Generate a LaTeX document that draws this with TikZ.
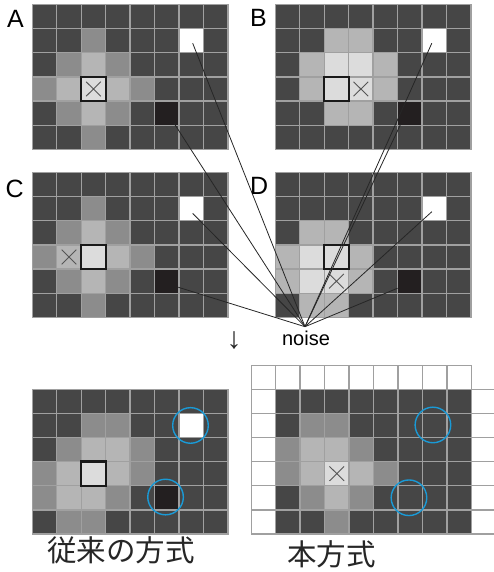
\documentclass[tikz,border=0pt]{standalone}
\usepackage{fontspec}
\setmainfont{Liberation Sans}
\newfontfamily\jpfont{Noto Sans CJK JP}
\definecolor{cD}{HTML}{464646}
\definecolor{cM}{HTML}{8C8C8C}
\definecolor{cL}{HTML}{B5B5B5}
\definecolor{cP}{HTML}{DCDCDC}
\definecolor{cW}{HTML}{FFFFFF}
\definecolor{cK}{HTML}{231F20}
\definecolor{gline}{HTML}{A0A0A0}
\definecolor{ringblue}{HTML}{1A9AD6}
\definecolor{xgray}{HTML}{555555}
\tikzset{
  cell/.style={draw=gline, line width=1.4pt},
  boldbox/.style={draw=black!90, line width=2.3pt},
  xm/.style={draw=xgray, line width=0.9pt},
  ring/.style={draw=ringblue, line width=1.4pt},
  ray/.style={draw=black!85, line width=0.8pt},
  letterlab/.style={font=\fontsize{25}{25}\selectfont, inner sep=0pt},
  noiselab/.style={font=\fontsize{20}{20}\selectfont, inner sep=0pt},
  arrowlab/.style={font=\fontsize{30}{30}\selectfont, inner sep=0pt, text=black!85},
  jplab/.style={font=\jpfont\fontsize{29.5}{30}\selectfont, inner sep=0pt, text=black!85}
}
\newcommand\pixgrid[1]{%
  \foreach \rowlist [count=\ri from 0] in {#1} {%
    \foreach \cc [count=\ci from 0] in \rowlist {%
      \draw[cell, fill=c\cc] (\ci,\ri) rectangle ++(1,1);
    }%
  }%
}
\newcommand\xmarkat[2]{\draw[xm] (#1+0.2,#2+0.2) -- (#1+0.8,#2+0.8) (#1+0.8,#2+0.2) -- (#1+0.2,#2+0.8);}
\newcommand\boldcell[2]{\draw[boldbox] (#1,#2) rectangle ++(1,1);}
\begin{document}
\begin{tikzpicture}[x=1pt, y=-1pt]
\useasboundingbox (0,0) rectangle (493,572);
% Grid A
\begin{scope}[xshift=32.3pt, yshift=-4.3pt, x=24.45pt, y=-24.2pt]
  \pixgrid{{D,D,D,D,D,D,D,D},{D,D,M,D,D,D,W,D},{D,M,L,M,D,D,D,D},{M,L,P,L,M,D,D,D},{D,M,L,M,D,K,D,D},{D,D,M,D,D,D,D,D}}
  \boldcell{2}{3}
  \xmarkat{2}{3}
  \coordinate (Aw) at (6.56,1.61);
  \coordinate (Ak) at (5.80,4.92);
\end{scope}
% Grid B
\begin{scope}[xshift=275.3pt, yshift=-4.3pt, x=24.45pt, y=-24.2pt]
  \pixgrid{{D,D,D,D,D,D,D,D},{D,D,L,L,D,D,W,D},{D,L,P,P,L,D,D,D},{D,L,P,P,L,D,D,D},{D,D,L,L,D,K,D,D},{D,D,D,D,D,D,D,D}}
  \boldcell{2}{3}
  \xmarkat{3}{3}
  \coordinate (Bw) at (6.40,1.61);
  \coordinate (Bk) at (5.12,4.97);
\end{scope}
% Grid C
\begin{scope}[xshift=32.3pt, yshift=-172.3pt, x=24.45pt, y=-24.2pt]
  \pixgrid{{D,D,D,D,D,D,D,D},{D,D,M,D,D,D,W,D},{D,M,L,M,D,D,D,D},{M,L,P,L,M,D,D,D},{D,M,L,M,D,K,D,D},{D,D,M,D,D,D,D,D}}
  \boldcell{2}{3}
  \xmarkat{1}{3}
  \coordinate (Cw) at (6.56,1.70);
  \coordinate (Ck) at (5.97,4.75);
\end{scope}
% Grid D
\begin{scope}[xshift=275.3pt, yshift=-172.3pt, x=24.45pt, y=-24.2pt]
  \pixgrid{{D,D,D,D,D,D,D,D},{D,D,D,D,D,D,W,D},{D,L,L,D,D,D,D,D},{L,P,P,L,D,D,D,D},{L,P,P,L,D,K,D,D},{D,L,L,D,D,D,D,D}}
  \boldcell{2}{3}
  \xmarkat{2}{4}
  \coordinate (Dw) at (6.40,1.63);
  \coordinate (Dk) at (5.00,4.79);
\end{scope}
% Grid E (conventional)
\begin{scope}[xshift=32.3pt, yshift=-389.3pt, x=24.45pt, y=-24.1pt]
  \pixgrid{{D,D,D,D,D,D,D,D},{D,D,M,M,D,D,W,D},{D,M,L,L,M,D,D,D},{M,L,P,L,M,D,D,D},{M,L,L,M,D,K,D,D},{D,M,M,D,D,D,D,D}}
  \boldcell{2}{3}
  \draw[ring] (6.47,1.5) circle[radius=17.8pt];
  \draw[ring] (5.45,4.47) circle[radius=17.8pt];
\end{scope}
% Grid F (proposed)
\begin{scope}[xshift=275.7pt, yshift=-389.3pt, x=24.45pt, y=-24.1pt]
  \foreach \ci in {-1,...,7} {\draw[cell, fill=white] (\ci,-1) rectangle ++(1,1);}
  \foreach \ri in {0,...,5} {\draw[cell, fill=white] (-1,\ri) rectangle ++(1,1);
                             \draw[cell, fill=white] (8,\ri) rectangle ++(1,1);}
  \pixgrid{{D,D,D,D,D,D,D,D},{D,M,M,D,D,D,D,D},{M,L,L,M,D,D,D,D},{M,L,P,L,M,D,D,D},{D,M,L,M,D,D,D,D},{D,D,M,D,D,D,D,D}}
  \xmarkat{2}{3}
  \draw[ring] (6.43,1.48) circle[radius=17.8pt];
  \draw[ring] (5.45,4.5) circle[radius=17.8pt];
\end{scope}
% noise rays
\coordinate (N) at (305,326.7);
\foreach \t in {Aw,Ak,Bw,Bk,Cw,Ck,Dw,Dk} {\draw[ray] (N) -- (\t);}
% labels
\node[letterlab, anchor=base west] (labA) at (7,28) {A};
\node[letterlab, anchor=base west] (labB) at (250,27) {B};
\node[letterlab, anchor=base west] (labC) at (5.5,197.5) {C};
\node[letterlab, anchor=base west] (labD) at (250,194.5) {D};
\node[noiselab, anchor=base] (noise) at (306,345.5) {noise};
\node[arrowlab] (down) at (234,341) {↓};
\node[jplab, anchor=base] (old) at (121,561) {従来の方式};
\node[jplab, anchor=base] (new) at (331.5,565) {本方式};
\end{tikzpicture}
\end{document}
